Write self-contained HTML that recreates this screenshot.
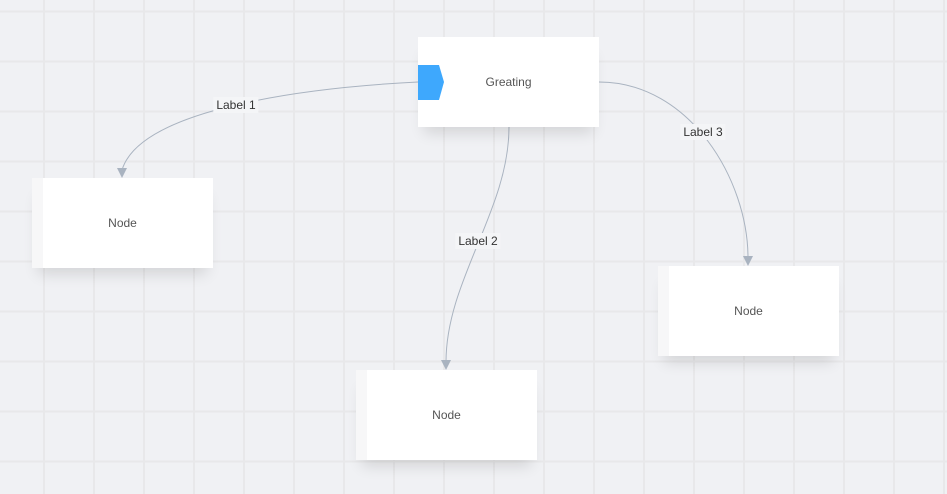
<!DOCTYPE html>
<html><head><style>
body{margin:0;width:947px;height:494px;overflow:hidden;background:#f0f1f4;font-family:"Liberation Sans",Arial,sans-serif;}
.grid{position:absolute;inset:0;background-image:linear-gradient(90deg,#e8e8ea 2px,transparent 2px),linear-gradient(#e8e8ea 2px,transparent 2px);background-size:50px 50px;background-position:43px 10.5px;}
.n{position:absolute;width:181px;height:90px;background:#fff;box-shadow:0 12px 14px -6px rgba(0,0,0,0.12);display:flex;align-items:center;justify-content:center;font-size:12px;color:#555;}
.n.s::before{content:"";position:absolute;left:0;top:0;bottom:0;width:11px;background:#f7f7f8;}
.l{position:absolute;font-size:12px;color:#333;background:#f4f5f7;padding:1px 3px;transform:translate(-50%,-50%);}
</style></head><body>
<div class="grid"></div>
<svg width="947" height="494" style="position:absolute;left:0;top:0">
<g fill="none" stroke="#a9b3c0" stroke-width="1">
<path d="M418,82 C300,88 140,110 122,170"/>
<path d="M509,127 C509,210 446,280 446,362"/>
<path d="M599,82 C690,82 748,180 748,258"/>
</g>
<g fill="#a9b3c0">
<path d="M117,168 L127,168 L122,178Z"/>
<path d="M441,360 L451,360 L446,370Z"/>
<path d="M743,256 L753,256 L748,266Z"/>
</g>
</svg>
<div class="n" style="left:418px;top:37px">Greating</div>
<svg width="30" height="40" style="position:absolute;left:418px;top:64px"><path d="M0,1 L21,1 L26,18 L21,36 L0,36Z" fill="#3ea8fd"/></svg>
<div class="n s" style="left:32px;top:178px">Node</div>
<div class="n s" style="left:356px;top:370px">Node</div>
<div class="n s" style="left:658px;top:266px">Node</div>
<div class="l" style="left:236px;top:105px">Label 1</div>
<div class="l" style="left:478px;top:241px">Label 2</div>
<div class="l" style="left:703px;top:132px">Label 3</div>
</body></html>
